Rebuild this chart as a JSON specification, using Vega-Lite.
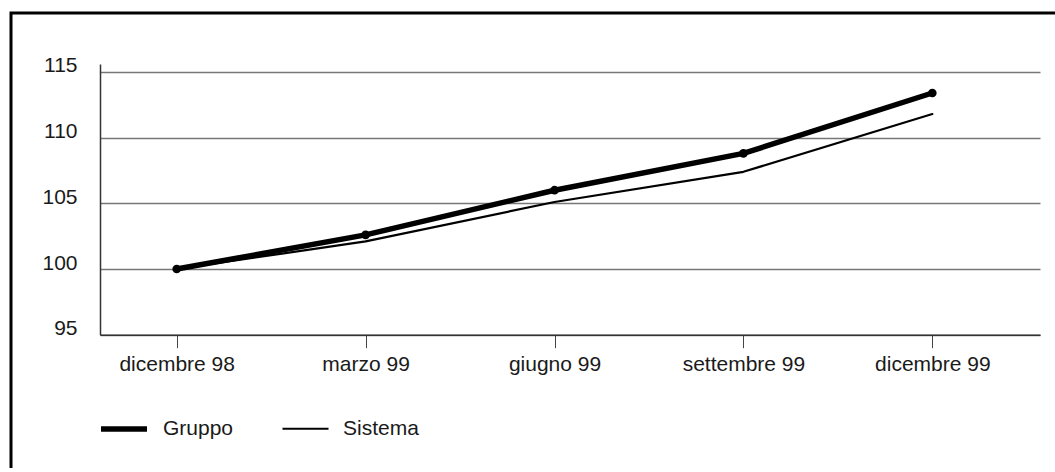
{
  "$schema": "https://vega.github.io/schema/vega-lite/v6.json",
  "width": 1064,
  "height": 475,
  "autosize": {"type": "none"},
  "padding": {"left": 11, "top": 13, "right": 0, "bottom": -20},
  "background": "white",
  "config": {
    "font": "Liberation Sans",
    "view": {
      "stroke": "black",
      "strokeWidth": 3
    },
    "axis": {
      "labelFont": "Liberation Sans",
      "labelFontSize": 21,
      "labelColor": "#1a1a1a",
      "domainColor": "#333333",
      "domainWidth": 1.5,
      "tickColor": "#444444",
      "gridColor": "#777777",
      "gridWidth": 1.5,
      "title": null
    },
    "legend": {
      "labelFont": "Liberation Sans",
      "labelFontSize": 21,
      "labelColor": "#1a1a1a"
    }
  },
  "data": {
    "values": [
      {"periodo": "dicembre 98", "serie": "Gruppo", "valore": 100.0},
      {"periodo": "marzo 99", "serie": "Gruppo", "valore": 102.6},
      {"periodo": "giugno 99", "serie": "Gruppo", "valore": 106.0},
      {"periodo": "settembre 99", "serie": "Gruppo", "valore": 108.8},
      {"periodo": "dicembre 99", "serie": "Gruppo", "valore": 113.4},
      {"periodo": "dicembre 98", "serie": "Sistema", "valore": 100.0},
      {"periodo": "marzo 99", "serie": "Sistema", "valore": 102.1},
      {"periodo": "giugno 99", "serie": "Sistema", "valore": 105.1},
      {"periodo": "settembre 99", "serie": "Sistema", "valore": 107.4},
      {"periodo": "dicembre 99", "serie": "Sistema", "valore": 111.8}
    ]
  },
  "encoding": {
    "x": {
      "field": "periodo",
      "type": "ordinal",
      "sort": ["dicembre 98", "marzo 99", "giugno 99", "settembre 99", "dicembre 99"],
      "scale": {"type": "point", "range": [89, 1029], "padding": 0.488, "align": 0.416},
      "axis": {
        "orient": "bottom",
        "offset": -153.3,
        "labelAngle": 0,
        "tickSize": 13,
        "labelPadding": 6,
        "grid": false
      }
    },
    "y": {
      "field": "valore",
      "type": "quantitative",
      "scale": {"domain": [95, 115.6], "range": [321.7, 51.1], "nice": false, "zero": false},
      "axis": {
        "values": [95, 100, 105, 110, 115],
        "offset": -89,
        "ticks": false,
        "tickSize": 0,
        "labelPadding": 23,
        "labelOffset": -6,
        "grid": true
      }
    }
  },
  "layer": [
    {
      "mark": {"type": "line", "color": "black", "strokeCap": "round", "strokeJoin": "round"},
      "encoding": {
        "strokeWidth": {
          "field": "serie",
          "type": "nominal",
          "scale": {"domain": ["Gruppo", "Sistema"], "range": [5.5, 2.2]},
          "legend": {
            "orient": "none",
            "legendX": 87,
            "legendY": 390,
            "direction": "horizontal",
            "title": null,
            "padding": 0,
            "symbolType": "stroke",
            "symbolSize": 2116,
            "symbolStrokeColor": "black",
            "labelOffset": 13,
            "columnPadding": 44
          }
        }
      }
    },
    {
      "transform": [{"filter": "datum.serie === 'Gruppo'"}],
      "mark": {"type": "point", "filled": true, "color": "black", "size": 75, "opacity": 1}
    }
  ]
}
